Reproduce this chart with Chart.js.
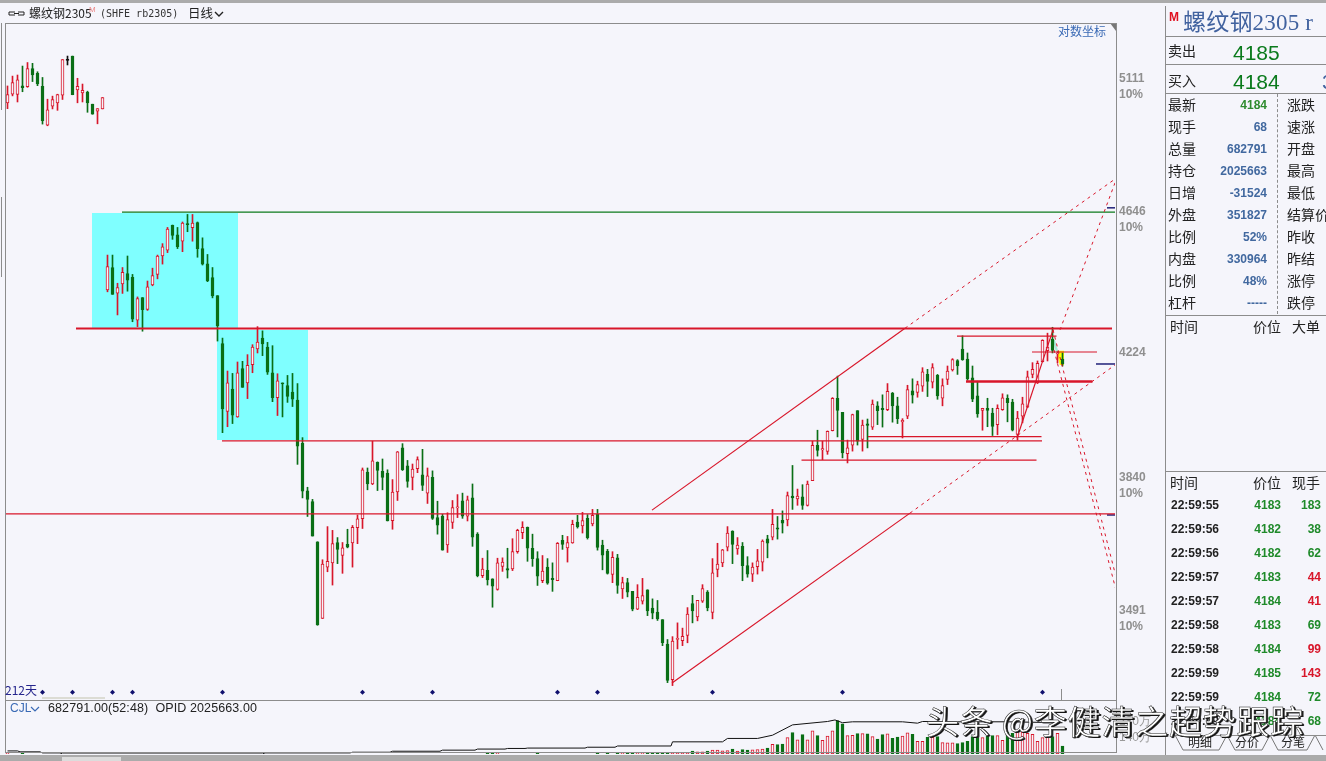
<!DOCTYPE html>
<html lang="zh"><head><meta charset="utf-8">
<script src="https://cdn.jsdelivr.net/npm/chart.js@4"></script>
<style>
html,body{margin:0;padding:0;background:#f5f5fb;overflow:hidden}
#stage{position:relative;width:1326px;height:761px;overflow:hidden;background:#f5f5fb;font-family:"Noto Sans CJK SC","Liberation Sans",sans-serif;color:#222}
canvas{position:absolute;left:0}
.t{position:absolute;white-space:nowrap;line-height:1;transform:translateY(-50%)}
.r{transform:translate(-100%,-50%)}
.b{position:absolute;background:#8c8c8c}
.n{font-family:"Liberation Sans",sans-serif;font-weight:bold;font-size:12px}
</style></head><body><div id="stage">
<canvas id="main" width="1165" height="704" style="top:0"></canvas>
<canvas id="volc" width="1165" height="57" style="top:700px"></canvas>
<svg id="deco" width="1326" height="761" style="position:absolute;left:0;top:0">
<polygon points="1110,23 1116,23 1116,31" fill="#777"/>
<polyline points="1175,735 1183,750 1219,750 1227,735 1235,750 1262,750 1270,735 1278,750 1307,750 1315,735 1323,750" fill="none" stroke="#777"/>
<path d="M9 12h6M18 12h6M9 15h6M18 15h6M9 12v3M24 12v3M14 13.5h5" stroke="#222" fill="none"/>
<path d="M215 12l4 4 4-4" stroke="#222" stroke-width="1.4" fill="none"/>
<path d="M31 707l4 4 4-4" stroke="#3a6ab5" stroke-width="1.2" fill="none"/>
</svg>
</div>
<script>
/* ---- candles, daily OHLC ---- */
const opens=[5021,5052,5051,5082,5079,5146,5128,5081,4941,5009,5021,5049,5176,5192,5068,5057,5060,5016,4991,4999,
4391,4462,4381,4410,4443,4431,4297,4367,4330,4407,4440,4499,4518,4599,4568,4547,4605,4591,4608,4523,4474,4430,4373,
4225,4025,4090,4009,4150,4108,4162,4209,4242,4215,4138,4065,
4108,4100,4081,4058,3934,3802,3773,3666,3470,3600,3611,3664,3630,3659,3663,3703,
3727,3854,3821,3881,3856,3851,3722,3799,3921,3871,3839,3863,3846,3796,
3839,3730,3734,3658,3717,3756,3775,3734,3783,3686,3578,3592,3570,3543,
3602,3596,3595,3640,3690,3704,3649,3622,3565,3600,3571,3565,3670,3650,3663,3718,3708,3728,
3713,3739,3657,3641,3581,3624,3544,3560,3538,3493,3513,3542,3496,3486,3467,3407,3321,3418,3415,3428,
3507,3474,3513,3536,3485,3594,3611,3652,3694,3647,3654,3604,3582,3601,3613,3674,3678,3703,
3723,3724,3788,3780,3786,3763,3830,3928,3915,3911,3970,4063,4022,3905,3929,4027,3945,3989,
3980,4041,4034,4030,4078,4041,3995,4011,4085,4080,4098,4133,4110,4130,4063,4118,4146,4174,4209,
4179,4123,4070,4028,4034,4020,3987,4030,4063,4052,3959,4011,4037,4133,4108,4171,4204,4239,4194,4179];
const closes=[5051,5094,5104,5076,5146,5122,5089,4957,4996,5033,5051,5179,5176,5050,5081,5066,5021,4980,5000,5040,
4465,4377,4398,4447,4422,4300,4364,4329,4401,4436,4499,4529,4587,4566,4529,4606,4601,4606,4523,4473,4419,4372,4279,
4032,4108,4014,4138,4095,4160,4215,4230,4224,4140,4065,4114,
4105,4068,4060,3926,3801,3779,3681,3454,3608,3615,3661,3646,3650,3652,3704,3727,
3860,3821,3885,3858,3839,3721,3799,3910,3860,3828,3862,3888,3817,3843,
3728,3710,3644,3725,3757,3759,3734,3778,3678,3578,3595,3567,3551,3611,
3613,3592,3640,3696,3704,3649,3622,3577,3590,3559,3568,3662,3659,3664,3712,3705,3722,3677,
3736,3651,3631,3584,3625,3553,3560,3536,3493,3523,3527,3489,3483,3469,3410,3319,3414,3421,3426,3481,
3489,3515,3545,3496,3585,3608,3645,3689,3659,3657,3604,3582,3600,3616,3668,3662,3712,3699,
3715,3789,3783,3788,3763,3821,3928,3914,3919,3968,4063,4028,3907,3921,4016,3940,3986,3985,
4046,4027,4030,4083,4041,4004,3999,4088,4072,4103,4141,4112,4153,4070,4100,4143,4177,4158,4177,
4120,4060,4018,4034,4028,3982,4034,4064,4050,3971,4006,4047,4126,4148,4166,4235,4215,4205,4197,4165];
const highs=[5082,5118,5122,5155,5168,5165,5134,5113,5034,5045,5052,5179,5192,5192,5110,5089,5063,5016,5000,5040,
4502,4502,4412,4462,4499,4440,4369,4367,4419,4460,4502,4539,4592,4600,4592,4610,4635,4635,4610,4558,4504,4462,4373,
4242,4143,4136,4170,4172,4192,4222,4277,4264,4229,4219,4135,
4108,4130,4136,4106,3950,3812,3779,3666,3619,3706,3696,3677,3664,3699,3709,3737,
3865,3865,3940,3882,3890,3860,3833,3911,3933,3886,3876,3896,3917,3865,
3857,3774,3739,3743,3776,3792,3796,3788,3821,3690,3623,3643,3570,3623,
3624,3649,3674,3699,3719,3705,3686,3640,3630,3622,3611,3664,3683,3680,3723,3736,3744,3738,
3752,3752,3670,3646,3640,3633,3574,3571,3538,3555,3571,3542,3519,3515,3467,3418,3425,3459,3446,3497,
3528,3515,3555,3540,3622,3662,3646,3706,3695,3677,3664,3627,3611,3646,3671,3683,3752,3733,
3748,3799,3872,3807,3819,3829,3940,3971,3940,3969,4065,4128,4022,3943,4017,4027,4000,4003,
4058,4053,4073,4106,4080,4066,4004,4101,4120,4113,4153,4148,4165,4133,4120,4158,4180,4177,4249,
4197,4158,4113,4034,4063,4034,4044,4076,4073,4060,4025,4066,4143,4168,4173,4237,4257,4275,4201,4197];
const lows=[5000,5046,5024,5061,5077,5098,5083,4945,4939,4999,4994,5033,5159,5050,5021,5024,4987,4980,4946,4999,
4385,4377,4313,4380,4387,4292,4277,4263,4327,4404,4426,4473,4510,4553,4523,4513,4578,4547,4495,4470,4417,4366,4233,
3964,3981,3990,4008,4095,4062,4138,4197,4189,4133,4053,4013,
4009,4051,4039,3875,3783,3733,3681,3453,3470,3588,3554,3609,3584,3650,3600,3661,
3701,3805,3819,3803,3805,3721,3699,3776,3858,3812,3805,3852,3803,3768,
3725,3686,3644,3638,3701,3730,3728,3721,3654,3575,3573,3554,3498,3541,
3589,3572,3591,3636,3674,3615,3602,3553,3560,3556,3538,3565,3646,3613,3662,3702,3689,3673,
3708,3644,3593,3582,3560,3533,3520,3524,3489,3492,3506,3477,3469,3465,3403,3314,3307,3395,3403,3410,
3459,3464,3510,3489,3469,3575,3601,3642,3609,3633,3565,3574,3563,3582,3590,3624,3671,3673,
3689,3708,3752,3763,3752,3761,3830,3898,3888,3903,3969,3952,3893,3879,3912,3929,3912,3921,
3973,3987,3980,4027,3994,3990,3949,4004,4049,4066,4083,4068,4093,4060,4041,4103,4143,4133,4175,
4116,4053,4008,3971,3981,3956,3958,4028,3995,3969,3943,3992,4036,4123,4106,4170,4173,4197,4167,4158];
/* ---- volume (10k lots) and open interest (10k lots) ---- */
const volumeWan=[6,0,0,6,0,0,0,0,0,0,0,0,0,0,0,0,0,0,0,0,
0,0,0,0,0,0,0,0,0,0,0,0,0,0,0,0,0,0,0,0,
0,0,0,0,0,0,0,0,0,0,0,0,0,0,0,0,0,0,0,0,
0,0,0,0,0,0,0,0,0,0,0,0,0,0,0,0,0,0,0,0,
0,0,0,0,0,0,0,0,0,0,0,0,0,0,0,0,6,6,6,0,
0,0,0,0,0,0,6,0,0,0,0,0,0,0,0,0,0,0,
6,0,6,0,6,6,6,6,6,6,6,6,6,6,15,15,15,15,15,24,18,18,24,33,33,27,29,42,24,38,33,36,38,42,51,
83,80,86,140,184,122,166,122,198,158,118,154,198,287,258,158,160,175,175,172,149,127,166,172,134,145,154,181,169,
109,109,142,142,149,98,95,95,89,98,109,149,154,140,154,158,158,118,187,178,193,187,178,169,109,140,149,149,178,68];
const oiDays=[0,2,2.5,6.5,7,10.5,11,51,51.5,68.5,69,76.5,77,86.5,87,93.5,94,99.5,100,103.5,104,110.5,115.5,116,121.5,122,132.7,133,143,144,150,153,157,164,165.5,167,169,179,182,183,190,200,211];
const oiWan=[20,20,14,14,7,7,0,0,7,7,11.5,11.5,18,18,25,25,32,32,36,36,38.5,38.5,38.5,44,44,52,52,79,79,101,101,122,189,211,221,203,209,209,200,211,209,209,203];
/* ---- price axis ---- */
const priceTicks=[5111,4646,4224,3840,3491];
const volumeTicks=[140,280];
/* ---- drawn trend lines: start day, end day, start price, end price ---- */
const solidFromDay=[13.7,42.9,-0.5,172.1,158.8,189.9,204.9,191.7,128.9,132.9,201.9];
const solidToDay  =[220.9,206.9,221.5,206.8,205.8,209.8,217.9,217,179.5,180.5,209.1];
const solidFromPx =[4271,3941,3740,3953,3887,4248,4200,4112,3750,3313,3949];
const solidToPx   =[4271,3941,3740,3953,3887,4248,4200,4112,4272,3742,4267];
const solidWeight =[2,1.2,1.2,1.2,1.2,1.2,1.2,2.5,1.2,1.2,1.2];
const dashFromDay=[179.5,180.5,210.5,209.1,209.3];
const dashToDay  =[221.5,221.5,221.5,221.7,221.7];
const dashFromPx =[4272,3742,4267,4267,4206];
const dashToPx   =[4754,4161,4741,3575,3541];
const greenLineDays=[22.9,221.5];
const greenLinePrice=[4643,4643];
const navyFromDay=[217.7,219.9,219.9];
const navyPrice=[4164,3737,4657];
const markerDays=[7,13,21,25,43,71,85,110,118,141,167,207];
const markerPrice=3291;
/* ---- shaded zones ---- */
const zoneDays=[[16.9,46.1,46.1,16.9],[41.9,60.1,60.1,41.9],[209.84,211.3,211.3,210.44],[209.1,209.5,210.16,209.64]];
const zonePrices=[[4640,4640,4272,4272],[4267,4267,3943,3943],[4204,4204,4161,4161],[4236,4236,4201,4201]];
const zoneFill=['#7fffff','#7fffff','#ffff00','#a8ead8'];

const RED='#d8162a',GRN='#0a6f16',BG='#f5f5fb',THIN='#d8162a';
const days=opens.map((_,i)=>i);
const tone=i=>closes[i]>opens[i]?RED:(closes[i]<opens[i]?GRN:'#111');
const candleTone=days.map(tone);
const bodyFill=days.map(i=>closes[i]>opens[i]?BG:tone(i));

const lineSet=(xs,ys,color,width,dash)=>({type:'line',data:xs.map((x,k)=>({x,y:ys[k]})),borderColor:color,borderWidth:width,borderDash:dash||[],pointRadius:0,fill:false,tension:0,order:0});
const trendSets=[];
solidFromDay.forEach((d,k)=>trendSets.push(lineSet([d,solidToDay[k]],[solidFromPx[k],solidToPx[k]],THIN,solidWeight[k])));
dashFromDay.forEach((d,k)=>trendSets.push(lineSet([d,dashToDay[k]],[dashFromPx[k],dashToPx[k]],THIN,1,[3,4])));
trendSets.push(lineSet(greenLineDays,greenLinePrice,'#0d7a1c',1.2));
navyFromDay.forEach((d,k)=>trendSets.push(lineSet([d,221.5],[navyPrice[k],navyPrice[k]],'#10106e',1.4)));

const zonePlugin={id:'zones',beforeDatasetsDraw(c){const g=c.ctx,x=c.scales.x,y=c.scales.y;g.save();
 zoneDays.forEach((ds,k)=>{g.beginPath();ds.forEach((d,j)=>{const px=x.getPixelForValue(d),py=y.getPixelForValue(zonePrices[k][j]);j?g.lineTo(px,py):g.moveTo(px,py);});g.closePath();g.fillStyle=zoneFill[k];g.fill();});
 g.restore();}};

const xAxis={type:'linear',min:-0.5,max:221.5,offset:false,display:false,grid:{display:false}};
const fitSide=s=>{s.width=50;s.paddingTop=0;s.paddingBottom=0;};
Chart.defaults.font.family='"Liberation Sans",sans-serif';
new Chart(document.getElementById('main'),{type:'bar',plugins:[zonePlugin],
 data:{datasets:[
  ...trendSets,
  {type:'line',showLine:false,data:markerDays.map(d=>({x:d,y:markerPrice})),pointStyle:'rectRot',pointRadius:2.5,pointBackgroundColor:'#10106e',pointBorderWidth:0,order:0},
  {data:days.map(i=>({x:i,y:[Math.min(opens[i],closes[i]),Math.max(opens[i],closes[i])]})),barThickness:3,minBarLength:1,grouped:false,backgroundColor:bodyFill,borderColor:candleTone,borderWidth:1,borderSkipped:false,order:1},
  {data:days.map(i=>({x:i,y:[lows[i],highs[i]]})),barThickness:1,grouped:false,backgroundColor:candleTone,borderWidth:0,order:2}
 ]},
 options:{responsive:false,animation:false,events:[],layout:{padding:{left:5,top:23,right:0,bottom:0}},
  plugins:{legend:{display:false},tooltip:{enabled:false},title:{display:false}},
  scales:{x:xAxis,y:{type:'logarithmic',position:'right',min:3273,max:5316.5,bounds:'data',
   grid:{display:false,drawTicks:false},border:{display:false},
   afterBuildTicks(s){s.ticks=priceTicks.map(v=>({value:v}));},
   afterFit:fitSide,
   ticks:{autoSkip:false,major:{enabled:false},padding:4,labelOffset:9,color:'#8f8f8f',maxRotation:0,font:{size:12,weight:'bold',lineHeight:1.34},
    callback:v=>v===priceTicks[2]?String(v):[String(v),'10%']}}}}});

new Chart(document.getElementById('volc'),{type:'bar',
 data:{datasets:[
  {type:'line',yAxisID:'oi',data:oiDays.map((d,k)=>({x:d,y:oiWan[k]})),borderColor:'#111',borderWidth:1,pointRadius:0,tension:0,order:0},
  {yAxisID:'y',data:days.map(i=>({x:i,y:volumeWan[i]>0?volumeWan[i]:null})),barThickness:3,grouped:false,backgroundColor:bodyFill,borderColor:candleTone,borderWidth:1,borderSkipped:false,order:1}
 ]},
 options:{responsive:false,animation:false,events:[],layout:{padding:{left:5,top:1,right:0,bottom:3}},
  plugins:{legend:{display:false},tooltip:{enabled:false}},
  scales:{x:xAxis,
   oi:{type:'linear',display:false,min:0,max:344,grid:{display:false}},
   y:{type:'linear',position:'right',min:0,max:454,grid:{display:false,drawTicks:false},border:{display:false},
    afterBuildTicks(s){s.ticks=volumeTicks.map(v=>({value:v}));},
    afterFit:fitSide,
    ticks:{autoSkip:false,padding:4,color:'#9a9a9a',font:{size:12},callback:v=>v+'万'}}}}});

/* ---- frame and side panel text ---- */
const stage=document.getElementById('stage');
function box(x,y,w,h,c){const d=document.createElement('div');d.className='b';d.style.cssText=`left:${x}px;top:${y}px;width:${w}px;height:${h}px`+(c?`;background:${c}`:'');stage.appendChild(d);}
function txt(s,x,y,css,right,cls){const d=document.createElement('div');d.className='t'+(right?' r':'')+(cls?' '+cls:'');d.textContent=s;d.style.cssText=`left:${x}px;top:${y}px;`+(css||'');stage.appendChild(d);return d;}
box(0,0,1326,3,'#ababab');box(0,755,1326,6,'#ababab');box(62,757,59,4,'#dcdcdc');
box(5,23,1112,1);box(5,23,1,730);box(5,700,1112,1);box(5,752,1112,1);box(1116,23,1,730);box(1165,6,1,749);
box(1,23,1,87);box(1,197,1,80);box(42,697,63,2,'#dcdcd4');box(1061,689,1,11,'#8c8c8c');
box(1166,36,160,1);box(1166,64,160,1);box(1166,93,160,1);box(1166,315,160,1);box(1166,471,160,1);box(1175,735,151,1);
const dv=document.createElement('div');dv.style.cssText='position:absolute;left:1277px;top:94px;height:220px;border-left:1px dashed #8c8c8c';stage.appendChild(dv);

const HF='font-size:12px;color:#222;';
txt('螺纹钢2305',29,13,HF);
txt('M',89,10,'font-size:8px;color:#e88;font-family:Liberation Sans');
txt('(SHFE rb2305)',100,14,'font-size:10px;color:#333;font-family:"DejaVu Sans Mono",monospace');
txt('日线',188,13,'font-size:12.5px;color:#222');
txt('对数坐标',1058,31,'font-size:12px;color:#3a6ab5');
txt('212天',5,690,'font-size:12px;color:#24248c');
txt('CJL',10,708,'font-size:12px;color:#3a6ab5;font-family:Liberation Sans');
txt('682791.00(52:48)  OPID 2025663.00',48,708,'font-size:12.5px;letter-spacing:.1px;color:#222;font-family:Liberation Sans;white-space:pre');

txt('M',1169,17,'font-size:12px;font-weight:bold;color:#e01020;font-family:Liberation Sans');
txt('螺纹钢2305 r',1183,22,'font-size:23px;color:#41629f;font-family:"Liberation Serif","Noto Sans CJK SC";letter-spacing:.2px');
txt('卖出',1168,50,'font-size:14px');txt('买入',1168,80,'font-size:14px');
txt('4185',1233,52,'font-size:21px;color:#0a7a1c;font-family:Liberation Sans');
txt('4184',1233,81,'font-size:21px;color:#0a7a1c;font-family:Liberation Sans');
txt('3',1322,81,'font-size:21px;color:#41629f;font-family:Liberation Sans');

const infoLabels=['最新','现手','总量','持仓','日增','外盘','比例','内盘','比例','杠杆'];
const infoValues=['4184','68','682791','2025663','-31524','351827','52%','330964','48%','-----'];
const infoRight=['涨跌','速涨','开盘','最高','最低','结算价','昨收','昨结','涨停','跌停'];
infoLabels.forEach((s,k)=>{const y=104+22*k;
 txt(s,1168,y,'font-size:14px');
 txt(infoValues[k],1267,y+1,'color:'+(k===0?'#2e8b2e':'#41689f'),true,'n');
 txt(infoRight[k],1287,y,'font-size:14px');});
[['时间',1170],['价位',1253],['大单',1292]].forEach(a=>txt(a[0],a[1],326,'font-size:14px'));
[['时间',1170],['价位',1253],['现手',1292]].forEach(a=>txt(a[0],a[1],482,'font-size:14px'));

const tickTimes=['22:59:55','22:59:56','22:59:56','22:59:57','22:59:57','22:59:58','22:59:58','22:59:59','22:59:59','22:59:59'];
const tickPrices=[4183,4182,4182,4183,4184,4183,4184,4185,4184,4184];
const tickHands=[183,38,62,44,41,69,99,143,72,68];
const tickUp=[0,0,0,1,1,0,1,1,0,0];
tickTimes.forEach((s,k)=>{const y=505+24*k;
 txt(s,1171,y,'color:#222',false,'n');
 txt(String(tickPrices[k]),1281,y,'color:#1f8a2a',true,'n');
 txt(String(tickHands[k]),1321,y,'color:'+(tickUp[k]?'#d8162a':'#1f8a2a'),true,'n');});
[['明细',1188],['分价',1235],['分笔',1281]].forEach(a=>txt(a[0],a[1],742,'font-size:12px;color:#222'));

txt('头条 @李健清之超势跟踪',926,720,'font-size:33px;letter-spacing:.8px;color:#fff;-webkit-text-stroke:.5px #222;text-shadow:1px 1px 0 #111,2px 1px 0 #333;z-index:5;font-family:"Noto Sans CJK SC"');
</script></body></html>
